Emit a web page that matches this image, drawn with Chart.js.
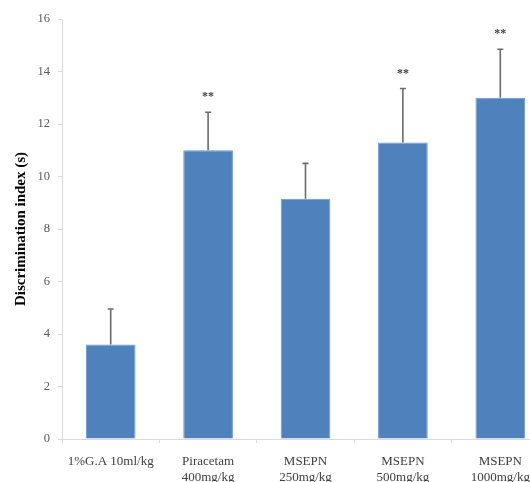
<!DOCTYPE html>
<html>
<head>
<meta charset="utf-8">
<script src="https://cdn.jsdelivr.net/npm/chart.js@4/dist/chart.umd.min.js"></script>
<style>
    html, body { margin: 0; padding: 0; background: #fff; overflow: hidden; }
    #wrap { width: 550px; height: 482px; }
</style>
</head>
<body>
<div id="wrap"><canvas id="barChart" width="550" height="482"></canvas></div>
<script>
// 数据
const groups = [['1%G.A 10ml/kg'], ['Piracetam', '400mg/kg'], ['MSEPN', '250mg/kg'], ['MSEPN', '500mg/kg'], ['MSEPN', '1000mg/kg']];
const means = [3.6, 11.0, 9.15, 11.3, 13.0];
const errors = [1.35, 1.45, 1.35, 2.05, 1.85];
const marks = ['', '**', '', '**', '**'];
const yTicks = [0, 2, 4, 6, 8, 10, 12, 14, 16];

// 误差线与显著性标记
const errorBarPlugin = {
    id: 'errorBars',
    afterDatasetsDraw(chart) {
        const ctx = chart.ctx;
        const meta = chart.getDatasetMeta(0);
        const y = chart.scales.y;
        ctx.save();
        meta.data.forEach((bar, i) => {
            const top = y.getPixelForValue(means[i] + errors[i]);
            const base = y.getPixelForValue(means[i]);
            ctx.strokeStyle = '#6b6b6b';
            ctx.lineWidth = 1.6;
            ctx.beginPath();
            ctx.moveTo(bar.x, base);
            ctx.lineTo(bar.x, top);
            ctx.moveTo(bar.x - 3, top);
            ctx.lineTo(bar.x + 3, top);
            ctx.stroke();
            if (marks[i]) {
                ctx.fillStyle = '#404040';
                ctx.font = 'bold 12px "Liberation Serif"';
                ctx.textAlign = 'center';
                ctx.textBaseline = 'middle';
                ctx.fillText(marks[i], bar.x, top - 15);
            }
        });
        ctx.restore();
    }
};

window.onload = function() {
    const barCtx = document.getElementById('barChart').getContext('2d');
    new Chart(barCtx, {
        type: 'bar',
        data: {
            labels: groups,
            datasets: [{
                data: means,
                backgroundColor: '#4f81bd',
                borderColor: '#6d97cc',
                borderWidth: 1,
                categoryPercentage: 1,
                barPercentage: 0.51
            }]
        },
        options: {
            responsive: false,
            animation: false,
            layout: { padding: { top: 19, right: 1, left: 12, bottom: 0 } },
            plugins: { legend: { display: false }, tooltip: { enabled: false } },
            scales: {
                x: {
                    offset: true,
                    grid: { offset: true, drawOnChartArea: false, color: '#d9d9d9', tickLength: 4 },
                    border: { color: '#d9d9d9' },
                    ticks: {
                        color: '#404040',
                        font: { family: 'Liberation Serif', size: 13, lineHeight: 1.25 },
                        maxRotation: 0,
                        autoSkip: false,
                        padding: 10
                    },
                    afterFit: s => { s.height = 43; }
                },
                y: {
                    min: 0,
                    max: 16,
                    afterBuildTicks: s => { s.ticks = yTicks.map(v => ({ value: v })); },
                    grid: { drawOnChartArea: false, color: '#d9d9d9', tickLength: 4 },
                    border: { color: '#d9d9d9' },
                    ticks: {
                        color: '#595959',
                        font: { family: 'Liberation Serif', size: 12.5 },
                        padding: 8
                    },
                    title: {
                        display: true,
                        text: 'Discrimination index (s)',
                        color: '#000',
                        font: { family: 'Liberation Serif', size: 15, weight: 'bold' },
                        padding: { top: 0, bottom: 0 }
                    },
                    afterFit: s => { s.width = 50; }
                }
            }
        },
        plugins: [errorBarPlugin]
    });
};
</script>
</body>
</html>
